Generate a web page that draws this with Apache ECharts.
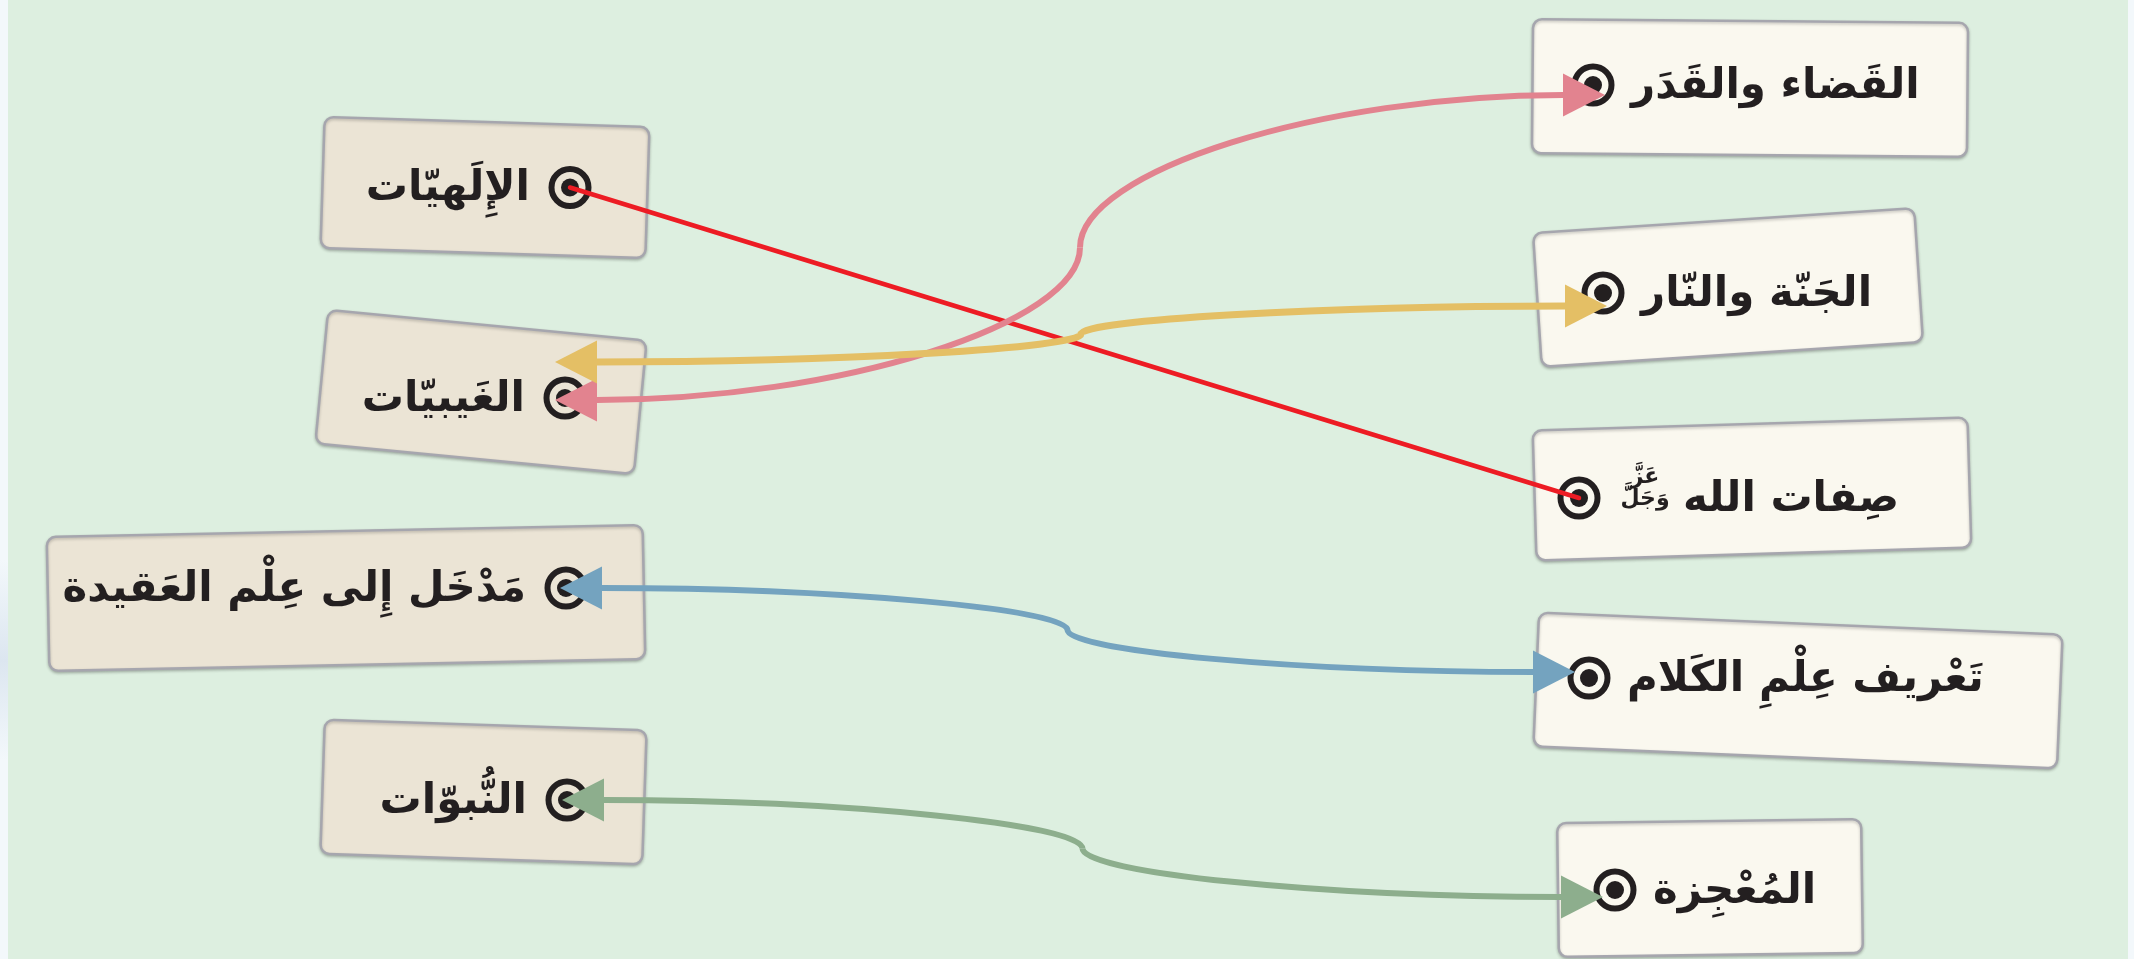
<!DOCTYPE html>
<html>
<head>
<meta charset="utf-8">
<script src="https://cdn.jsdelivr.net/npm/echarts@6/dist/echarts.min.js"></script>
<style>
html,body{margin:0;padding:0;background:#F3F8FB;}
#chart{width:2134px;height:959px;}
</style>
</head>
<body>
<div id="chart"></div>
<script>
// ---------------- data ----------------
const leftItems = ['الإِلَهيّات', 'الغَيبيّات', 'مَدْخَل إِلى عِلْم العَقيدة', 'النُّبوّات'];
const rightItems = ['القَضاء والقَدَر', 'الجَنّة والنّار', 'صِفات الله', 'تَعْريف عِلْمِ الكَلام', 'المُعْجِزة'];
const rightHonorifics = ['', '', 'عَزَّ\nوَجَلَّ', '', ''];
const leftRows = [0.5, 1.5, 2.5, 3.5];
const rightRows = [0, 1, 2, 3, 4];
// matches: [left item index, right item index]
const matches = [[0, 2], [1, 0], [1, 1], [2, 3], [3, 4]];
const matchArrows = [false, true, true, true, true];

// ---------------- layout / style (hand-placed look) ----------------
const leftLayout = [
  {w: 325, h: 131, rot: -1.8, cx: -85, cy: 0, nx: 3, ny: 0},
  {w: 320, h: 134, rot: -5.5, cx: -84, cy: -6, nx: -2, ny: 9.5},
  {w: 596, h: 134, rot: 1.15, cx: -220, cy: 10, nx: -1, ny: -1.5},
  {w: 322, h: 134, rot: -1.9, cx: -83.5, cy: -8, nx: 0, ny: 9.5}
];
const rightLayout = [
  {w: 435, h: 134, rot: -0.5, cx: 157, cy: 3, nx: -2, ny: -2},
  {w: 382, h: 134, rot: 3.75, cx: 125, cy: -5.5, nx: 8, ny: 5},
  {w: 435, h: 130, rot: 1.7, cx: 173, cy: -9, nx: -16, ny: 9},
  {w: 524, h: 134, rot: -2.4, cx: 209, cy: 12.5, nx: -6, ny: -12},
  {w: 304, h: 134, rot: 0.75, cx: 95, cy: -2, nx: 20, ny: -1}
];
// arrow tip offsets from the target circles: [left dx, left dy, right dx, right dy]
const linkTips = [[0, 0, 0, 0], [-10, 2, 12, 10], [-10, -36, 4, 13], [-6, 0, -14, -6], [-5, 0, -12, 7]];
const linkColors = ['#ED1C24', '#E2838F', '#E4BF65', '#74A3BF', '#8DAE8D'];
const linkWidths = [4.5, 6, 7, 6, 6];
const FONT = 'bold 42px "DejaVu Sans", sans-serif';
const INK = '#231F20';

function anchor(api, side, row, L) {
  const p = api.coord([side, row]);
  return [p[0] + L.nx, p[1] + L.ny];
}

function renderBox(params, api) {
  const side = api.value(0);
  const row = api.value(1);
  const idx = api.value(2);
  const L = side === 0 ? leftLayout[idx] : rightLayout[idx];
  const a = anchor(api, side, row, L);
  const ax = a[0], ay = a[1];
  const children = [];
  children.push({
    type: 'rect',
    x: ax + L.cx, y: ay + L.cy,
    rotation: L.rot * Math.PI / 180,
    shape: {x: -L.w / 2, y: -L.h / 2, width: L.w, height: L.h, r: 9},
    style: {
      fill: side === 0 ? '#EBE4D5' : '#FAF8EF',
      stroke: '#A6A6AE', lineWidth: 2.5,
      shadowBlur: 3, shadowOffsetY: 1.5, shadowColor: 'rgba(0,0,0,0.22)'
    }
  });
  children.push({type: 'circle', shape: {cx: ax, cy: ay, r: 18.5}, style: {fill: 'none', stroke: INK, lineWidth: 6}});
  children.push({type: 'circle', shape: {cx: ax, cy: ay, r: 9}, style: {fill: INK}});
  if (side === 0) {
    children.push({type: 'text', x: ax - 40, y: ay + 2,
      style: {text: leftItems[idx], font: FONT, fill: INK, align: 'right', verticalAlign: 'middle'}});
  } else {
    const hon = rightHonorifics[idx];
    let tx = ax + 38;
    if (hon) {
      children.push({type: 'text', x: tx + 28, y: ay - 10,
        style: {text: hon, font: 'bold 22px "DejaVu Sans", sans-serif', fill: INK, align: 'center', verticalAlign: 'middle', lineHeight: 22}});
      tx += 66;
    }
    children.push({type: 'text', x: tx, y: ay + 2,
      style: {text: rightItems[idx], font: FONT, fill: INK, align: 'left', verticalAlign: 'middle'}});
  }
  return {type: 'group', children: children};
}

function renderLink(params, api) {
  const k = api.value(4);
  const li = matches[k][0], ri = matches[k][1];
  const A0 = anchor(api, api.value(0), api.value(1), leftLayout[li]);
  const B0 = anchor(api, api.value(2), api.value(3), rightLayout[ri]);
  const t = linkTips[k];
  const color = linkColors[k];
  const lw = linkWidths[k];
  const L = [A0[0] + t[0], A0[1] + t[1]];
  const R = [B0[0] + t[2], B0[1] + t[3]];
  const children = [];
  if (!matchArrows[k]) {
    children.push({type: 'line', shape: {x1: L[0], y1: L[1], x2: R[0], y2: R[1]},
      style: {stroke: color, lineWidth: lw, lineCap: 'round'}});
    return {type: 'group', children: children};
  }
  const len = 42, hw = 21.5, c = 0.5;
  const A = [L[0] + len, L[1]];
  const B = [R[0] - len, R[1]];
  const M = [(A[0] + B[0]) / 2, (A[1] + B[1]) / 2];
  children.push({type: 'bezierCurve', shape: {
      x1: A[0], y1: A[1],
      cpx1: A[0] + c * (M[0] - A[0]), cpy1: A[1],
      cpx2: M[0], cpy2: M[1] + c * (A[1] - M[1]),
      x2: M[0], y2: M[1]},
    style: {stroke: color, lineWidth: lw, fill: null}});
  children.push({type: 'bezierCurve', shape: {
      x1: M[0], y1: M[1],
      cpx1: M[0], cpy1: M[1] + c * (B[1] - M[1]),
      cpx2: B[0] - c * (B[0] - M[0]), cpy2: B[1],
      x2: B[0], y2: B[1]},
    style: {stroke: color, lineWidth: lw, fill: null}});
  children.push({type: 'polygon', shape: {points: [[L[0], L[1]], [A[0], A[1] - hw], [A[0], A[1] + hw]]}, style: {fill: color}});
  children.push({type: 'polygon', shape: {points: [[R[0], R[1]], [B[0], B[1] - hw], [B[0], B[1] + hw]]}, style: {fill: color}});
  return {type: 'group', children: children};
}

const boxData = leftItems.map((_, i) => [0, leftRows[i], i])
  .concat(rightItems.map((_, j) => [1, rightRows[j], j]));
const linkData = matches.map((m, k) => [0, leftRows[m[0]], 1, rightRows[m[1]], k]);

const chart = echarts.init(document.getElementById('chart'), null, {renderer: 'canvas'});
chart.setOption({
  backgroundColor: '#F3F8FB',
  animation: false,
  graphic: [
    {type: 'rect', z: -10, shape: {x: 0, y: 560, width: 8, height: 200},
     style: {fill: new echarts.graphic.LinearGradient(0, 0, 0, 1, [
       {offset: 0, color: '#F3F8FB'}, {offset: 0.5, color: '#DCE6F0'}, {offset: 1, color: '#F3F8FB'}])}},
    {type: 'rect', z: -10, shape: {x: 8, y: 0, width: 2120, height: 959}, style: {fill: '#DDEFE0'}}
  ],
  grid: {left: 567, right: 539, top: 87, bottom: 68, show: false},
  xAxis: {type: 'value', min: 0, max: 1, show: false},
  yAxis: {type: 'value', min: 0, max: 4, inverse: true, show: false},
  tooltip: {show: false},
  series: [
    {type: 'custom', name: 'boxes', coordinateSystem: 'cartesian2d', z: 2, clip: false,
     encode: {x: 0, y: 1}, renderItem: renderBox, data: boxData},
    {type: 'custom', name: 'links', coordinateSystem: 'cartesian2d', z: 3, clip: false,
     encode: {x: [0, 2], y: [1, 3]}, renderItem: renderLink, data: linkData}
  ]
});
</script>
</body>
</html>
